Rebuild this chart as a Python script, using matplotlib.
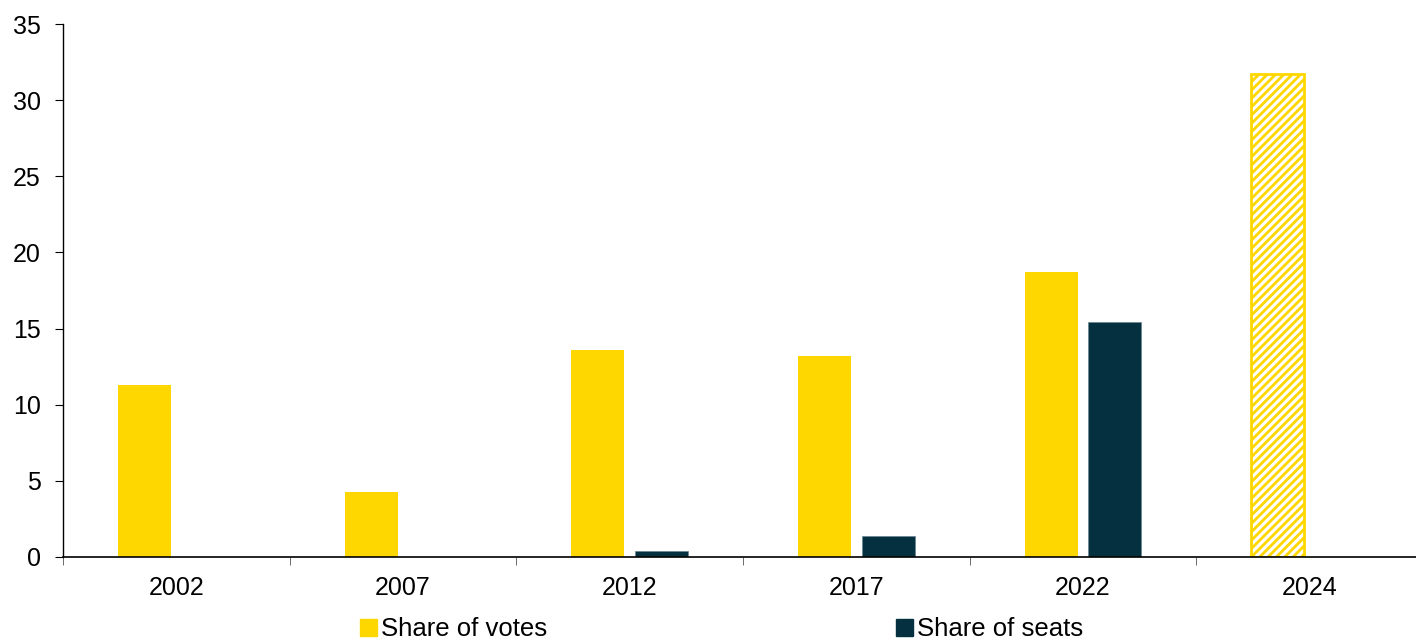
import matplotlib.pyplot as plt
import numpy as np
from matplotlib.patches import Patch

plt.rcParams["font.family"] = ["Liberation Sans", "DejaVu Sans"]
plt.rcParams["hatch.linewidth"] = 2.0

years = ["2002", "2007", "2012", "2017", "2022", "2024"]
votes = [11.3, 4.3, 13.6, 13.2, 18.7, 31.7]
seats = [0.0, 0.0, 0.4, 1.4, 15.4, 0.0]
projected = [False, False, False, False, False, True]

yellow = "#FFD700"
navy = "#04303F"

fig = plt.figure(figsize=(14.16, 6.4), dpi=100)
ax = fig.add_axes([63 / 1416, 1 - 557 / 640, 1360 / 1416, 533 / 640])

x = np.arange(len(years))
w = 0.234
off = 0.141

for i in range(len(years)):
    if projected[i]:
        ax.bar(x[i] - off, votes[i], w, color="white", edgecolor=yellow,
               hatch="////", linewidth=2)
    else:
        ax.bar(x[i] - off, votes[i], w, color=yellow)
    if seats[i] > 0:
        ax.bar(x[i] + off, seats[i], w, color=navy, edgecolor="#6a8590", linewidth=0.5)

ax.set_xlim(-0.5, len(years) - 0.5)
ax.set_ylim(0, 35)
ax.set_yticks(range(0, 36, 5))
ax.set_xticks(x)
ax.set_xticklabels(years)
ax.set_xticks(np.arange(-0.5, len(years), 1), minor=True)
ax.tick_params(axis="x", which="major", length=0, pad=14, labelsize=18)
ax.tick_params(axis="x", which="minor", length=6, direction="out", color="#555555")
ax.tick_params(axis="y", length=6, pad=10, labelsize=18)

for s in ["top", "right"]:
    ax.spines[s].set_visible(False)
ax.spines["left"].set_linewidth(1)
ax.spines["bottom"].set_linewidth(1.2)

handles = [Patch(color=yellow, label="Share of votes"),
           Patch(color=navy, label="Share of seats")]
fig.legend(handles=handles, loc="lower center", bbox_to_anchor=(721.5 / 1416, -0.018),
           ncol=2, frameon=False, fontsize=18.5, handlelength=0.64, handleheight=0.64,
           handletextpad=0.15, columnspacing=13.6, borderaxespad=0)

fig.savefig("out.png", dpi=100)
